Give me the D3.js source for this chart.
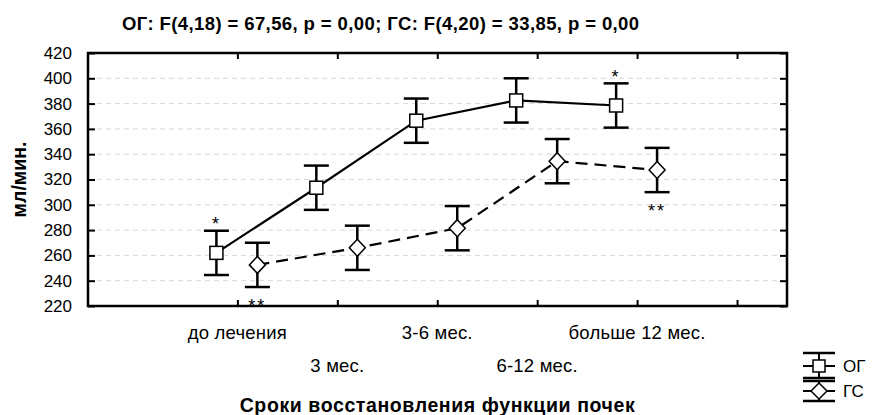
<!DOCTYPE html>
<html>
<head>
<meta charset="utf-8">
<script src="https://cdn.jsdelivr.net/npm/d3@7"></script>
<style>
  html, body { margin: 0; padding: 0; background: #fff; }
  svg { display: block; font-family: "Liberation Sans", Arial, sans-serif; }
</style>
</head>
<body>
<svg id="chart" width="878" height="415"></svg>
<script>
// ---- data ----
const categories = ["до лечения", "3 мес.", "3-6 мес.", "6-12 мес.", "больше 12 мес."];
const seriesNames = ["ОГ", "ГС"];
const ogMean = [262, 313.5, 366.5, 382.5, 378.5];
const ogErr  = [17.5, 17.5, 17.5, 17.5, 17.5];
const gsMean = [252.5, 266, 281.5, 334.5, 327.5];
const gsErr  = [17.5, 17.5, 17.5, 17.5, 17.5];
const yTicks = [220, 240, 260, 280, 300, 320, 340, 360, 380, 400, 420];
const xTicks = [0, 1, 2, 3, 4, 5];
const titleText = "ОГ: F(4,18) = 67,56, p = 0,00; ГС: F(4,20) = 33,85, p = 0,00";
const xTitle = "Сроки восстановления функции почек";
const yTitle = "мл/мин.";
// significance marks: [series index, category index, text, side]
const marks = [
  [0, 0, "*", "above"],
  [1, 0, "**", "below"],
  [0, 4, "*", "above"],
  [1, 4, "**", "below"]
];

// ---- layout ----
const svg = d3.select("#chart");
const L = 88, R = 787, T = 53, B = 306;
const x = d3.scaleLinear().domain([-1.5, 5.5]).range([L - 0.5, R]);
const y = d3.scaleLinear().domain([220, 420]).range([B, T]);
const offsets = [-0.21, 0.2];
const series = [
  { name: seriesNames[0], mean: ogMean, err: ogErr, dash: null, marker: "square" },
  { name: seriesNames[1], mean: gsMean, err: gsErr, dash: "12,7", marker: "diamond" }
];

// title
svg.append("text").attr("x", 122).attr("y", 30)
  .attr("font-size", 18.5).attr("font-weight", "bold").attr("letter-spacing", 0.4)
  .attr("fill", "#000").text(titleText);

// grid
svg.append("g").selectAll("line").data(yTicks.slice(1, -1)).join("line")
  .attr("x1", L).attr("x2", R).attr("y1", d => y(d)).attr("y2", d => y(d))
  .attr("stroke", "#d8d8d8").attr("stroke-width", 1).attr("stroke-dasharray", "5,4");

// axes (ticks inward)
const yAxisL = d3.axisLeft(y).tickValues(yTicks).tickSize(-7).tickPadding(16).tickFormat(d3.format("d"));
const gL = svg.append("g").attr("transform", `translate(${L},0)`).call(yAxisL);
const yAxisR = d3.axisRight(y).tickValues(yTicks).tickSize(-7).tickFormat("");
const gR = svg.append("g").attr("transform", `translate(${R},0)`).call(yAxisR);
const xAxisB = d3.axisBottom(x).tickValues(xTicks).tickSize(-6).tickFormat("");
const gB = svg.append("g").attr("transform", `translate(0,${B})`).call(xAxisB);
const xAxisT = d3.axisTop(x).tickValues(xTicks).tickSize(-6).tickFormat("");
const gT = svg.append("g").attr("transform", `translate(0,${T})`).call(xAxisT);
[gL, gR, gB, gT].forEach(g => {
  g.select(".domain").remove();
  g.selectAll(".tick line").attr("stroke", "#000").attr("stroke-width", 2);
});
gL.selectAll(".tick text").attr("font-size", 17).attr("fill", "#000")
  .attr("font-family", "Liberation Sans, Arial, sans-serif");

// frame
svg.append("rect").attr("x", L).attr("y", T).attr("width", R - L).attr("height", B - T)
  .attr("fill", "none").attr("stroke", "#000").attr("stroke-width", 2.5);

// x category labels (staggered)
svg.append("g").selectAll("text").data(categories).join("text")
  .attr("x", (d, i) => x(i))
  .attr("y", (d, i) => i % 2 === 0 ? 339 : 372)
  .attr("text-anchor", "middle").attr("font-size", 18.5).attr("letter-spacing", 0.2)
  .attr("fill", "#000").text(d => d);

// axis titles
svg.append("text").attr("x", (L + R) / 2).attr("y", 412)
  .attr("text-anchor", "middle").attr("font-size", 19.5).attr("font-weight", "bold")
  .attr("letter-spacing", 0.6).text(xTitle);
svg.append("text").attr("transform", `translate(26,${(T + B) / 2}) rotate(-90)`)
  .attr("text-anchor", "middle").attr("font-size", 19.5).attr("font-weight", "bold")
  .text(yTitle);

// lines
const line = d3.line().x(d => d[0]).y(d => d[1]);
series.forEach((s, si) => {
  const pts = s.mean.map((m, i) => [x(i + offsets[si]), y(m)]);
  svg.append("path").attr("d", line(pts)).attr("fill", "none")
    .attr("stroke", "#000").attr("stroke-width", 2.2)
    .attr("stroke-dasharray", s.dash);
});

// error bars + markers
const capW = 12.5;
series.forEach((s, si) => {
  const g = svg.append("g");
  s.mean.forEach((m, i) => {
    const cx = x(i + offsets[si]);
    const yt = y(m + s.err[i]), yb = y(m - s.err[i]), cy = y(m);
    g.append("line").attr("x1", cx).attr("x2", cx).attr("y1", yt).attr("y2", yb)
      .attr("stroke", "#000").attr("stroke-width", 2.5);
    [yt, yb].forEach(yy => g.append("line").attr("x1", cx - capW).attr("x2", cx + capW)
      .attr("y1", yy).attr("y2", yy).attr("stroke", "#000").attr("stroke-width", 2.5));
    if (s.marker === "square") {
      g.append("rect").attr("x", cx - 6.5).attr("y", cy - 6.5).attr("width", 13).attr("height", 13)
        .attr("fill", "#fff").attr("stroke", "#000").attr("stroke-width", 1.5);
    } else {
      g.append("path").attr("d", `M${cx},${cy - 8.5}L${cx + 8},${cy}L${cx},${cy + 8.5}L${cx - 8},${cy}Z`)
        .attr("fill", "#fff").attr("stroke", "#000").attr("stroke-width", 1.5);
    }
  });
});

// significance marks
svg.append("g").selectAll("text").data(marks).join("text")
  .attr("x", d => x(d[1] + offsets[d[0]]))
  .attr("y", d => {
    const s = series[d[0]];
    return d[3] === "above" ? y(s.mean[d[1]] + s.err[d[1]]) - 0.5
                            : y(s.mean[d[1]] - s.err[d[1]]) + 25;
  })
  .attr("text-anchor", "middle").attr("font-size", 18).attr("letter-spacing", 2)
  .attr("fill", "#000").text(d => d[2]);

// legend
const lg = svg.append("g");
const lx = 819, lw = 16;
const rows = [{ cy: 366, top: 353, bot: 378 }, { cy: 391, top: 381, bot: 401 }];
series.forEach((s, si) => {
  const r = rows[si];
  lg.append("line").attr("x1", lx).attr("x2", lx).attr("y1", r.top).attr("y2", r.bot)
    .attr("stroke", "#000").attr("stroke-width", 2);
  [r.top, r.bot].forEach(yy => lg.append("line").attr("x1", lx - lw).attr("x2", lx + lw)
    .attr("y1", yy).attr("y2", yy).attr("stroke", "#000").attr("stroke-width", 2.5));
  lg.append("line").attr("x1", lx - lw).attr("x2", lx + lw).attr("y1", r.cy).attr("y2", r.cy)
    .attr("stroke", "#000").attr("stroke-width", 2);
  if (s.marker === "square") {
    lg.append("rect").attr("x", lx - 6).attr("y", r.cy - 6).attr("width", 12).attr("height", 12)
      .attr("fill", "#fff").attr("stroke", "#000").attr("stroke-width", 1.5);
  } else {
    lg.append("path").attr("d", `M${lx},${r.cy - 8}L${lx + 8},${r.cy}L${lx},${r.cy + 8}L${lx - 8},${r.cy}Z`)
      .attr("fill", "#fff").attr("stroke", "#000").attr("stroke-width", 1.5);
  }
  lg.append("text").attr("x", 843).attr("y", r.cy + 6).attr("font-size", 17)
    .attr("fill", "#000").text(s.name);
});
</script>
</body>
</html>
